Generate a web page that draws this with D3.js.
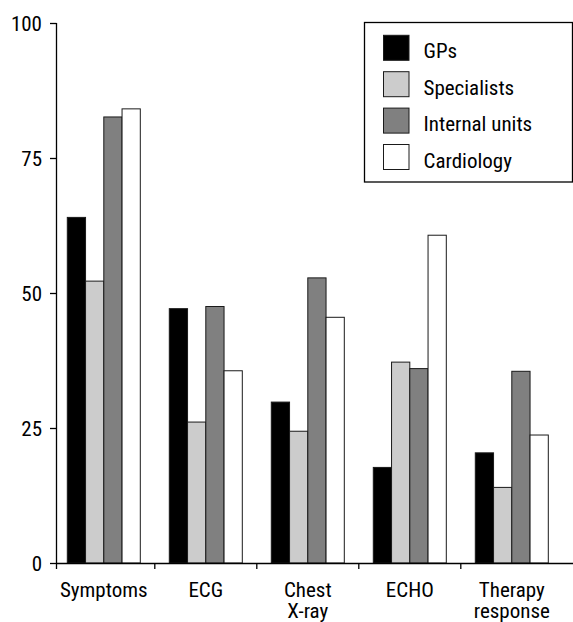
<!DOCTYPE html>
<html>
<head>
<meta charset="utf-8">
<script src="https://cdn.jsdelivr.net/npm/d3@7"></script>
<style>
  html, body { margin: 0; padding: 0; background: #fff; }
  svg { display: block; }
  text { font-family: "Liberation Sans Narrow", "Arial Narrow", "Roboto Condensed", "DejaVu Sans Condensed", sans-serif; fill: #000; }
</style>
</head>
<body>
<svg id="chart" width="573" height="622"></svg>
<script>
const categories = ["Symptoms", "ECG", "Chest\nX-ray", "ECHO", "Therapy\nresponse"];
const seriesNames = ["GPs", "Specialists", "Internal units", "Cardiology"];
const gps          = [64.0, 47.1, 29.8, 17.7, 20.4];
const specialists  = [52.2, 26.1, 24.4, 37.2, 14.0];
const internalUnits= [82.6, 47.5, 52.8, 36.0, 35.5];
const cardiology   = [84.1, 35.6, 45.5, 60.7, 23.7];
const yTicks = [0, 25, 50, 75, 100];

const seriesValues = [gps, specialists, internalUnits, cardiology];
const colors = ["#000000", "#cccccc", "#808080", "#ffffff"];

const svg = d3.select("#chart");
const axisX = 56, y0 = 563, yTop = 23;

const y = d3.scaleLinear().domain([0, 100]).range([y0, yTop]);
const x = d3.scaleBand().domain(categories).range([52.8, 562.8]).padding(0);
const groupW = 73;
const xi = d3.scaleBand().domain(seriesNames)
  .range([(x.bandwidth() - groupW) / 2, (x.bandwidth() + groupW) / 2]).padding(0);

// bars
const data = [];
categories.forEach((c, ci) => {
  seriesNames.forEach((s, si) => {
    data.push({ c, s, si, v: seriesValues[si][ci] });
  });
});

svg.append("g").selectAll("rect").data(data).join("rect")
  .attr("x", d => x(d.c) + xi(d.s))
  .attr("y", d => y(d.v))
  .attr("width", xi.bandwidth())
  .attr("height", d => y0 - y(d.v))
  .attr("fill", d => colors[d.si])
  .attr("stroke", "#1a1a1a")
  .attr("stroke-width", 1);

// y axis
const gy = svg.append("g");
gy.append("line").attr("x1", axisX + 0.5).attr("x2", axisX + 0.5)
  .attr("y1", yTop).attr("y2", y0).attr("stroke", "#000").attr("stroke-width", 1.3);
gy.selectAll("line.tick").data(yTicks).join("line").attr("class", "tick")
  .attr("x1", axisX - 6).attr("x2", axisX + 0.5)
  .attr("y1", d => y(d) + 0.5).attr("y2", d => y(d) + 0.5)
  .attr("stroke", "#000").attr("stroke-width", 1.3);
gy.selectAll("text").data(yTicks).join("text")
  .attr("x", axisX - 14).attr("y", d => y(d) + 8)
  .attr("text-anchor", "end")
  .style("font-size", "21px")
  .text(d => d);

// x axis
const gx = svg.append("g");
gx.append("line").attr("x1", axisX).attr("x2", 573)
  .attr("y1", y0 + 0.5).attr("y2", y0 + 0.5).attr("stroke", "#000").attr("stroke-width", 1.3);
const boundaries = categories.slice(1).map(c => x(c));
gx.selectAll("line.tick").data([axisX + 0.5].concat(boundaries)).join("line").attr("class", "tick")
  .attr("x1", d => d).attr("x2", d => d)
  .attr("y1", y0).attr("y2", y0 + 6)
  .attr("stroke", "#000").attr("stroke-width", 1.3);
const labels = gx.selectAll("text").data(categories).join("text")
  .attr("text-anchor", "middle")
  .attr("transform", d => `translate(${x(d) + x.bandwidth() / 2},597)`)
  .style("font-size", "21px");
labels.each(function(d) {
  const t = d3.select(this);
  d.split("\n").forEach((line, i) => {
    t.append("tspan").attr("x", 0).attr("y", i * 20.5).text(line);
  });
});

// legend
const lg = svg.append("g");
lg.append("rect").attr("x", 364.5).attr("y", 22.5).attr("width", 208).attr("height", 159.5)
  .attr("fill", "#fff").attr("stroke", "#000").attr("stroke-width", 1.3);
const ly = d3.scaleBand().domain(seriesNames).range([35.3, 35.3 + 4 * 36.4]);
lg.selectAll("rect.sw").data(seriesNames).join("rect").attr("class", "sw")
  .attr("x", 383.5).attr("y", d => ly(d)).attr("width", 25.5).attr("height", 25)
  .attr("fill", (d, i) => colors[i]).attr("stroke", "#1a1a1a").attr("stroke-width", 1);
lg.selectAll("text").data(seriesNames).join("text")
  .attr("x", 423.5).attr("y", d => ly(d) + 23)
  .style("font-size", "21px")
  .text(d => d);
</script>
</body>
</html>
